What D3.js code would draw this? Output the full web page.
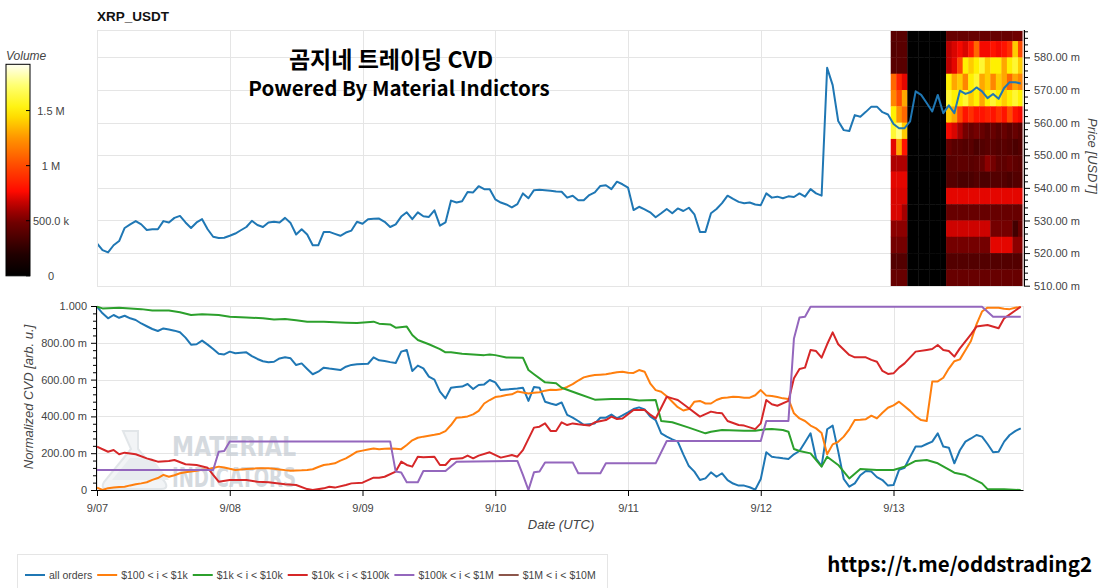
<!DOCTYPE html>
<html>
<head>
<meta charset="utf-8">
<script src="https://cdn.jsdelivr.net/npm/d3@7"></script>
<style>
	body { margin: 0; background: #ffffff; }
	text { font-family: "Liberation Sans", Arial, Helvetica, sans-serif; }
</style>
</head>
<body>
<svg id="chart" width="1103" height="588"></svg>
<script>

// hours are counted from 9/07 00:00 UTC
var START = Date.UTC(2024, 8, 7);
var END_HOUR = 167.5;

// hourly XRP price, milli-USDT
var priceM = [
	523.0, 520.9, 520.2, 522.4, 523.7, 527.7, 528.8, 529.8, 528.8, 527.1, 527.3, 527.3,
	529.8, 529.4, 530.8, 531.4, 529.4, 527.7, 529.4, 530.4, 527.3, 525.0, 524.6, 524.7,
	525.3, 526.0, 527.0, 528.0, 529.9, 528.6, 528.0, 529.4, 529.6, 529.4, 530.8, 529.2,
	525.7, 527.3, 525.7, 522.4, 522.4, 526.5, 526.5, 525.9, 525.3, 526.3, 526.9, 529.6,
	529.0, 530.4, 530.5, 530.6, 529.6, 528.0, 528.8, 531.2, 532.5, 530.4, 532.5, 531.3,
	531.1, 533.1, 528.4, 529.4, 536.1, 535.5, 535.9, 538.7, 538.6, 540.5, 539.6, 539.6,
	536.5, 535.5, 534.9, 534.0, 535.0, 538.3, 536.8, 539.3, 539.4, 539.3, 539.1, 538.9,
	538.8, 537.0, 537.6, 536.2, 536.2, 537.8, 538.6, 540.6, 540.8, 539.6, 541.9, 541.1,
	540.1, 533.2, 534.2, 533.4, 532.5, 531.0, 532.2, 533.5, 532.2, 533.7, 532.9, 533.9,
	531.9, 526.5, 526.5, 532.2, 533.5, 535.3, 537.6, 536.6, 535.7, 535.3, 535.5, 534.9,
	534.7, 538.3, 537.0, 537.3, 536.8, 537.4, 537.2, 538.3, 537.3, 539.6, 538.3, 537.6,
	576.8, 571.5, 560.5, 557.7, 557.4, 562.3, 561.8, 563.3, 564.9, 564.9, 563.2, 562.5,
	559.6, 558.3, 558.3, 560.4, 569.6, 568.5, 566.0, 563.4, 568.5, 562.9, 565.3, 562.9,
	569.8, 568.8, 569.4, 570.8, 569.6, 567.5, 568.8, 567.3, 570.6, 572.4, 572.4, 572.0
];

// normalized CVD, [hour, value]
var cvdAll = [
	[0,0.996],[1,0.960],[2,0.933],[3,0.951],[4,0.936],[5,0.947],[6,0.933],[7,0.924],[8,0.905],[9,0.890],
	[10,0.875],[11,0.864],[12,0.878],[13,0.872],[14,0.866],[15,0.857],[16,0.828],[17,0.790],[18,0.792],[19,0.812],
	[20,0.790],[21,0.766],[22,0.740],[23,0.737],[24,0.752],[25,0.743],[26,0.746],[27,0.748],[28,0.728],[29,0.712],
	[30,0.700],[31,0.694],[32,0.697],[33,0.715],[34,0.721],[35,0.716],[36,0.679],[37,0.688],[38,0.658],[39,0.629],
	[40,0.643],[41,0.665],[42,0.660],[43,0.656],[44,0.652],[45,0.670],[46,0.680],[47,0.683],[48,0.685],[49,0.686],
	[50,0.721],[51,0.705],[52,0.701],[53,0.695],[54,0.690],[55,0.752],[56,0.761],[57,0.647],[58,0.676],[59,0.661],
	[60,0.616],[61,0.600],[62,0.535],[63,0.498],[64,0.556],[65,0.560],[66,0.562],[67,0.576],[68,0.549],[69,0.571],
	[70,0.574],[71,0.598],[72,0.585],[73,0.543],[74,0.546],[75,0.549],[76,0.552],[77,0.556],[78,0.484],[79,0.560],
	[80,0.556],[81,0.480],[82,0.470],[83,0.462],[84,0.476],[85,0.408],[86,0.393],[87,0.375],[88,0.354],[89,0.358],
	[90,0.362],[91,0.393],[92,0.393],[93,0.410],[94,0.389],[95,0.405],[96,0.422],[97,0.440],[98,0.449],[99,0.438],
	[100,0.400],[101,0.380],[102,0.308],[103,0.290],[104,0.275],[105,0.263],[106,0.194],[107,0.130],[108,0.100],[109,0.054],
	[110,0.063],[111,0.096],[112,0.072],[113,0.091],[114,0.054],[115,0.035],[116,0.024],[117,0.024],[118,0.015],[119,0.002],
	[120,0.060],[121,0.205],[122,0.181],[123,0.176],[124,0.172],[125,0.169],[126,0.194],[127,0.212],[128,0.260],[129,0.308],
	[130,0.170],[131,0.130],[132,0.330],[133,0.350],[134,0.210],[135,0.060],[136,0.018],[137,0.036],[138,0.080],[139,0.103],
	[140,0.100],[141,0.070],[142,0.054],[143,0.024],[144,0.027],[145,0.109],[146,0.121],[147,0.180],[148,0.236],[149,0.236],
	[150,0.250],[151,0.263],[152,0.308],[153,0.236],[154,0.230],[155,0.145],[156,0.216],[157,0.263],[158,0.280],[159,0.299],
	[160,0.290],[161,0.250],[162,0.205],[163,0.208],[164,0.263],[165,0.299],[166,0.320],[167,0.335]
];

var cvd100 = [
	[0,0.013],[1,0.000],[2,0.010],[3,0.013],[4,0.016],[5,0.018],[6,0.025],[7,0.031],[8,0.036],[9,0.042],
	[10,0.055],[11,0.065],[12,0.082],[13,0.072],[14,0.080],[15,0.091],[16,0.096],[17,0.100],[18,0.105],[19,0.110],
	[20,0.113],[21,0.120],[22,0.127],[23,0.122],[24,0.115],[25,0.109],[26,0.112],[27,0.114],[28,0.116],[29,0.118],
	[30,0.118],[31,0.118],[32,0.116],[33,0.112],[34,0.108],[35,0.105],[36,0.106],[37,0.107],[38,0.109],[39,0.113],
	[40,0.125],[41,0.136],[42,0.140],[43,0.145],[44,0.160],[45,0.172],[46,0.190],[47,0.208],[48,0.214],[49,0.220],
	[50,0.226],[51,0.222],[52,0.224],[53,0.226],[54,0.224],[55,0.222],[56,0.245],[57,0.270],[58,0.284],[59,0.290],
	[60,0.295],[61,0.300],[62,0.306],[63,0.320],[64,0.353],[65,0.393],[66,0.396],[67,0.400],[68,0.411],[69,0.430],
	[70,0.470],[71,0.489],[72,0.505],[73,0.510],[74,0.516],[75,0.520],[76,0.535],[77,0.530],[78,0.525],[79,0.528],
	[80,0.531],[81,0.540],[82,0.545],[83,0.544],[84,0.548],[85,0.560],[86,0.575],[87,0.595],[88,0.612],[89,0.620],
	[90,0.625],[91,0.627],[92,0.629],[93,0.634],[94,0.640],[95,0.643],[96,0.637],[97,0.636],[98,0.652],[99,0.643],
	[100,0.580],[101,0.543],[102,0.534],[103,0.510],[104,0.480],[105,0.450],[106,0.432],[107,0.440],[108,0.480],[109,0.484],
	[110,0.470],[111,0.470],[112,0.489],[113,0.500],[114,0.503],[115,0.507],[116,0.505],[117,0.502],[118,0.502],[119,0.515],
	[120,0.543],[121,0.513],[122,0.511],[123,0.505],[124,0.498],[125,0.495],[126,0.417],[127,0.389],[128,0.375],[129,0.350],
	[130,0.335],[131,0.310],[132,0.194],[133,0.248],[134,0.262],[135,0.290],[136,0.330],[137,0.380],[138,0.382],[139,0.385],
	[140,0.404],[141,0.389],[142,0.420],[143,0.447],[144,0.460],[145,0.480],[146,0.455],[147,0.430],[148,0.400],[149,0.380],
	[150,0.375],[151,0.589],[152,0.590],[153,0.610],[154,0.660],[155,0.700],[156,0.710],[157,0.760],[158,0.810],[159,0.900],
	[160,0.970],[161,0.991],[162,0.991],[163,0.991],[164,0.985],[165,0.983],[166,0.990],[167,0.995]
];

var cvd1k = [
	[0,0.996],[1,0.987],[4,0.991],[8,0.983],[10,0.975],[13,0.975],[15,0.966],[17,0.951],[19,0.955],[22,0.951],
	[24,0.942],[27,0.938],[30,0.933],[32,0.926],[34,0.929],[36,0.922],[38,0.915],[41,0.915],[45,0.909],[47,0.907],
	[50,0.915],[51,0.904],[53,0.900],[54,0.882],[56,0.888],[57,0.842],[58,0.815],[60,0.792],[62,0.766],[63,0.748],
	[64,0.748],[66,0.741],[68,0.737],[70,0.733],[71,0.737],[72,0.733],[74,0.720],[77,0.719],[78,0.652],[79,0.629],
	[81,0.585],[83,0.580],[84,0.556],[87,0.523],[90,0.491],[93,0.495],[96,0.495],[98,0.487],[101,0.489],[102,0.375],
	[104,0.368],[107,0.339],[110,0.308],[111,0.317],[113,0.326],[117,0.322],[119,0.322],[121,0.330],[122,0.331],[124,0.326],
	[125,0.317],[126,0.223],[127,0.212],[129,0.199],[131,0.127],[132,0.181],[134,0.136],[136,0.063],[138,0.114],[141,0.109],
	[144,0.109],[146,0.127],[148,0.158],[150,0.163],[152,0.145],[155,0.094],[157,0.081],[160,0.036],[161,0.005],[164,0.004],
	[167,0.000]
];

var cvd10k = [
	[0,0.235],[2,0.208],[3,0.217],[4,0.194],[5,0.203],[7,0.194],[9,0.172],[10,0.163],[11,0.154],[13,0.158],
	[14,0.163],[16,0.140],[18,0.136],[20,0.121],[21,0.082],[22,0.045],[24,0.054],[27,0.054],[29,0.045],[31,0.042],
	[34,0.031],[36,0.027],[38,0.005],[39,0.000],[41,0.009],[42,0.018],[43,0.013],[45,0.027],[46,0.036],[48,0.040],
	[50,0.067],[51,0.067],[52,0.072],[54,0.100],[55,0.154],[56,0.136],[57,0.127],[58,0.181],[59,0.178],[61,0.181],
	[62,0.136],[63,0.136],[64,0.169],[66,0.172],[67,0.187],[68,0.172],[69,0.187],[71,0.205],[73,0.176],[75,0.190],
	[76,0.181],[77,0.217],[79,0.339],[80,0.344],[81,0.362],[82,0.321],[83,0.321],[84,0.368],[85,0.353],[86,0.362],
	[87,0.357],[89,0.350],[90,0.368],[92,0.380],[93,0.399],[94,0.386],[95,0.389],[97,0.435],[99,0.435],[100,0.410],
	[101,0.389],[102,0.447],[103,0.507],[104,0.498],[105,0.489],[107,0.444],[109,0.399],[111,0.426],[112,0.420],[113,0.417],
	[114,0.375],[116,0.353],[117,0.350],[119,0.331],[120,0.362],[121,0.489],[122,0.466],[123,0.458],[125,0.484],[126,0.607],
	[127,0.658],[128,0.665],[129,0.761],[130,0.755],[131,0.719],[132,0.792],[133,0.857],[134,0.792],[136,0.734],[137,0.721],
	[139,0.721],[140,0.707],[141,0.697],[142,0.647],[143,0.631],[144,0.634],[145,0.665],[146,0.688],[148,0.752],[150,0.761],
	[151,0.766],[152,0.788],[153,0.761],[154,0.755],[155,0.725],[156,0.770],[158,0.846],[159,0.888],[161,0.897],[163,0.879],
	[164,0.933],[167,0.996]
];

var cvd100k = [
	[0,0.109],[21,0.109],[22,0.208],[23,0.212],[24,0.264],[53,0.264],[54,0.100],[55,0.095],[56,0.042],[58,0.042],
	[59,0.103],[63,0.103],[65,0.154],[76,0.158],[77,0.082],[78,0.000],[79,0.096],[80,0.100],[81,0.150],[86,0.150],
	[87,0.091],[91,0.091],[92,0.145],[101,0.145],[103,0.266],[120,0.266],[121,0.375],[125,0.375],[126,0.824],[127,0.937],
	[128,0.942],[129,0.996],[160,0.996],[162,0.942],[167,0.942]
];

var cvd1M = [];

var seriesNames = ["all orders", "$100 < i < $1k", "$1k < i < $10k", "$10k < i < $100k", "$100k < i < $1M", "$1M < i < $10M"];
var seriesData = [cvdAll, cvd100, cvd1k, cvd10k, cvd100k, cvd1M];
var seriesColors = ["#1f77b4", "#ff7f0e", "#2ca02c", "#d62728", "#9467bd", "#8c564b"];

// order-book volume heatmap: price bins (lower edge, milli-USDT), hourly columns from 9/13 00:00, volume in M
var heatBinLow = [585, 580, 575, 570, 565, 560, 555, 550, 545, 540, 535, 530, 525, 520, 515, 510];
var heatHour0 = 144;
var volumeGrid = [
	[0.40,0.40,0.40, 0,0,0,0,0,0,0, 0.45,0.45,0.45,0.45,0.45,0.45,0.45,0.45,0.45,0.45,0.45,0.45,0.48,0.48],
	[0.38,0.40,0.40, 0,0,0,0,0,0,0, 0.65,0.70,0.75,0.70,0.80,1.10,0.75,0.75,0.80,0.75,0.80,0.90,1.40,1.00],
	[0.40,0.40,0.40, 0,0,0,0,0,0,0, 0.65,0.72,1.00,1.50,1.40,1.50,1.60,1.40,1.50,1.50,1.30,1.50,1.60,1.40],
	[1.10,0.85,0.72, 0,0,0,0,0,0,0, 1.50,1.30,1.40,1.20,1.50,1.60,1.30,1.40,1.20,1.40,1.30,1.10,1.30,1.20],
	[1.20,1.00,1.30, 0,0,0,0,0,0,0, 1.60,1.50,1.50,1.60,1.40,1.50,1.30,1.50,1.60,1.50,1.40,1.50,1.60,1.50],
	[1.50,1.25,1.10, 0,0,0,0,0,0,0, 1.40,1.30,1.00,0.80,0.90,0.80,0.80,0.85,0.80,0.90,0.80,1.00,0.80,0.75],
	[1.60,1.75,1.40, 0,0,0,0,0,0,0, 0.75,0.70,0.60,0.50,0.45,0.50,0.45,0.40,0.45,0.40,0.45,0.40,0.45,0.40],
	[0.72,1.30,0.80, 0,0,0,0,0,0,0, 0.45,0.40,0.40,0.38,0.40,0.35,0.38,0.40,0.40,0.38,0.40,0.38,0.35,0.38],
	[0.62,0.62,0.62, 0,0,0,0,0,0,0, 0.40,0.40,0.42,0.42,0.40,0.42,0.45,0.55,0.50,0.42,0.42,0.45,0.42,0.40],
	[0.72,0.72,0.72, 0,0,0,0,0,0,0, 0.38,0.38,0.35,0.35,0.35,0.38,0.35,0.35,0.38,0.38,0.38,0.35,0.38,0.38],
	[0.70,0.70,0.70, 0,0,0,0,0,0,0, 0.72,0.72,0.72,0.72,0.72,0.72,0.72,0.72,0.72,0.72,0.72,0.72,0.72,0.72],
	[0.70,0.70,0.60, 0,0,0,0,0,0,0, 0.45,0.45,0.45,0.45,0.45,0.45,0.45,0.45,0.45,0.45,0.45,0.45,0.45,0.45],
	[0.55,0.55,0.55, 0,0,0,0,0,0,0, 0.68,0.68,0.68,0.68,0.68,0.68,0.68,0.68,0.50,0.50,0.50,0.50,0.32,0.45],
	[0.50,0.50,0.50, 0,0,0,0,0,0,0, 0.50,0.50,0.50,0.50,0.50,0.50,0.50,0.50,0.72,0.72,0.72,0.72,0.55,0.55],
	[0.38,0.38,0.38, 0,0,0,0,0,0,0, 0.38,0.38,0.38,0.38,0.38,0.38,0.38,0.38,0.38,0.38,0.38,0.38,0.38,0.38],
	[0.45,0.45,0.45, 0,0,0,0,0,0,0, 0.45,0.45,0.45,0.45,0.45,0.45,0.45,0.45,0.45,0.45,0.45,0.45,0.45,0.45]
];

var priceTicks = [510, 520, 530, 540, 550, 560, 570, 580];
var cvdTicks = [0, 0.2, 0.4, 0.6, 0.8, 1];
var volumeTicks = [0, 0.5, 1, 1.5];
var volumeTickLabels = ["0", "500.0 k", "1 M", "1.5 M"];
var VOLUME_MAX = 1.92;

var LEFT = 97, RIGHT = 1023.5;
var TOP1 = 30, BOTTOM1 = 286;
var TOP2 = 306, BOTTOM2 = 490;
var GRID = "#e5e5e5", INK = "#444444";
var CJK = "'Noto Sans CJK KR', 'Noto Sans', sans-serif";

function hourDate(h) { return new Date(START + h * 3600000); }

var svg = d3.select("#chart");

var x = d3.scaleUtc()
	.domain([hourDate(0), hourDate(END_HOUR)])
	.range([LEFT, RIGHT]);
var yPrice = d3.scaleLinear().domain([510, 588.4]).range([285.7, TOP1]);
var yCvd = d3.scaleLinear().domain([0, 1]).range([BOTTOM2, TOP2]);
var heatColor = d3.scaleLinear()
	.domain([0, 0.1, 0.26, 0.33, 0.4, 0.52, 0.65, 0.78, 0.9, 1].map(function(t) { return t * VOLUME_MAX; }))
	.range(["#000000", "#200000", "#740000", "#b40000", "#ff0a00", "#ff4a00", "#ff9400", "#fff000", "#ffff70", "#fffff2"])
	.clamp(true);

var days = x.ticks(d3.utcDay.every(1));
var dayFormat = d3.utcFormat("%-m/%d");

var defs = svg.append("defs");
defs.append("clipPath").attr("id", "clip1")
	.append("rect").attr("x", LEFT).attr("y", TOP1).attr("width", RIGHT - LEFT).attr("height", BOTTOM1 - TOP1);
defs.append("clipPath").attr("id", "clip2")
	.append("rect").attr("x", LEFT).attr("y", TOP2 - 2).attr("width", RIGHT - LEFT).attr("height", BOTTOM2 - TOP2 + 2);

// ---------- top panel: price + heatmap ----------
var pricePanel = svg.append("g");

pricePanel.append("text")
	.attr("x", LEFT).attr("y", 21)
	.style("font-size", "13.5px").style("font-weight", "bold").style("fill", "#111")
	.text("XRP_USDT");

var grid1 = pricePanel.append("g");
grid1.selectAll(".h").data(priceTicks).enter().append("line")
	.attr("x1", LEFT).attr("x2", RIGHT)
	.attr("y1", function(d) { return Math.round(yPrice(d)) + 0.5; })
	.attr("y2", function(d) { return Math.round(yPrice(d)) + 0.5; })
	.style("stroke", GRID);
grid1.selectAll(".v").data(days).enter().append("line")
	.attr("x1", function(d) { return Math.round(x(d)) + 0.5; })
	.attr("x2", function(d) { return Math.round(x(d)) + 0.5; })
	.attr("y1", TOP1).attr("y2", BOTTOM1)
	.style("stroke", GRID);

var cells = [];
volumeGrid.forEach(function(row, i) {
	row.forEach(function(v, j) {
		cells.push({low: heatBinLow[i], hour: heatHour0 + j, v: v});
	});
});

pricePanel.append("g").attr("clip-path", "url(#clip1)")
	.selectAll("rect").data(cells).enter().append("rect")
	.attr("x", function(d) { return x(hourDate(d.hour - 0.5)); })
	.attr("width", function(d) { return x(hourDate(d.hour + 0.5)) - x(hourDate(d.hour - 0.5)) + 0.4; })
	.attr("y", function(d) { return yPrice(d.low + 5); })
	.attr("height", function(d) { return yPrice(d.low) - yPrice(d.low + 5) + 0.4; })
	.style("fill", function(d) { return heatColor(d.v); });

var priceLine = d3.line()
	.x(function(d, i) { return x(hourDate(i)); })
	.y(function(d) { return yPrice(d); });

pricePanel.append("path").datum(priceM)
	.attr("clip-path", "url(#clip1)")
	.attr("d", priceLine)
	.style("fill", "none").style("stroke", "#1f77b4").style("stroke-width", 2)
	.style("stroke-linejoin", "round");

pricePanel.append("rect")
	.attr("x", LEFT + 0.5).attr("y", TOP1 + 0.5)
	.attr("width", RIGHT - LEFT - 1).attr("height", BOTTOM1 - TOP1)
	.style("fill", "none").style("stroke", GRID);

var rightAxis = pricePanel.append("g").attr("transform", "translate(" + Math.round(RIGHT) + ",0)");
rightAxis.call(d3.axisRight(yPrice).tickValues(priceTicks).tickSize(6).tickPadding(4)
	.tickFormat(function(d) { return d.toFixed(2) + " m"; }));
rightAxis.append("g").call(d3.axisRight(yPrice)
	.tickValues(d3.range(510, 589, 2).filter(function(d) { return d % 10; }))
	.tickSize(4).tickFormat(""));
rightAxis.selectAll(".domain").attr("d", "M0.5," + TOP1 + "V" + BOTTOM1);
rightAxis.selectAll(".tick text").style("font-size", "11px").style("fill", INK)
	.style("font-family", "Liberation Sans, Arial, sans-serif");

pricePanel.append("text")
	.attr("transform", "translate(1088," + 156 + ") rotate(90)")
	.attr("text-anchor", "middle")
	.style("font-size", "13px").style("font-style", "italic").style("fill", INK)
	.text("Price [USDT]");

// volume colour bar
var yBar = d3.scaleLinear().domain([0, VOLUME_MAX]).range([275.8, 64.3]);
var grad = defs.append("linearGradient").attr("id", "volgrad")
	.attr("x1", 0).attr("y1", 1).attr("x2", 0).attr("y2", 0);
d3.range(0, 1.0001, 0.05).forEach(function(t) {
	grad.append("stop").attr("offset", t).attr("stop-color", heatColor(t * VOLUME_MAX));
});
svg.append("rect")
	.attr("x", 6).attr("y", yBar(VOLUME_MAX))
	.attr("width", 24).attr("height", yBar(0) - yBar(VOLUME_MAX))
	.style("fill", "url(#volgrad)").style("stroke", "#000").style("stroke-width", 1);
var barTicks = svg.append("g").selectAll("g").data(volumeTicks).enter().append("g");
barTicks.append("line")
	.attr("x1", 26).attr("x2", 30)
	.attr("y1", function(d) { return yBar(d); }).attr("y2", function(d) { return yBar(d); })
	.style("stroke", "#000");
barTicks.append("text")
	.attr("x", 51).attr("y", function(d) { return yBar(d) + 4; })
	.attr("text-anchor", "middle")
	.style("font-size", "11px").style("fill", INK)
	.text(function(d, i) { return volumeTickLabels[i]; });
svg.append("text")
	.attr("x", 6).attr("y", 60)
	.style("font-size", "12px").style("font-style", "italic").style("fill", INK)
	.text("Volume");

// titles
svg.append("text")
	.attr("x", 391).attr("y", 68).attr("text-anchor", "middle")
	.style("font-family", CJK)
	.style("font-size", "23px").style("font-weight", "bold").style("fill", "#000")
	.text("곰지네 트레이딩 CVD");
svg.append("text")
	.attr("x", 399).attr("y", 96).attr("text-anchor", "middle")
	.style("font-family", CJK)
	.style("font-size", "20.5px").style("font-weight", "bold").style("fill", "#000")
	.text("Powered By Material Indictors");

// ---------- bottom panel: normalized CVD ----------
var cvdPanel = svg.append("g");

var grid2 = cvdPanel.append("g");
grid2.selectAll(".h").data(cvdTicks).enter().append("line")
	.attr("x1", LEFT).attr("x2", RIGHT)
	.attr("y1", function(d) { return Math.round(yCvd(d)) + 0.5; })
	.attr("y2", function(d) { return Math.round(yCvd(d)) + 0.5; })
	.style("stroke", GRID);
grid2.selectAll(".v").data(days).enter().append("line")
	.attr("x1", function(d) { return Math.round(x(d)) + 0.5; })
	.attr("x2", function(d) { return Math.round(x(d)) + 0.5; })
	.attr("y1", TOP2).attr("y2", BOTTOM2)
	.style("stroke", GRID);
cvdPanel.append("line")
	.attr("x1", Math.round(RIGHT) - 0.5).attr("x2", Math.round(RIGHT) - 0.5)
	.attr("y1", TOP2).attr("y2", BOTTOM2)
	.style("stroke", GRID);

// watermark
var mark = cvdPanel.append("g").style("opacity", 0.75);
mark.append("path")
	.attr("d", "M123,431 h15 v18 l27,33 q4,7 -4,7 h-53 q-8,0 -4,-7 l27,-33 z")
	.style("fill", "#eef1f3").style("stroke", "#d9dee2").style("stroke-width", 2);
mark.append("path")
	.attr("d", "M112,480 l18,-22 h22 l17,22")
	.style("fill", "#e1e6ea").style("stroke", "none");
var markFont = "'Liberation Sans Narrow', 'DejaVu Sans Condensed', sans-serif";
mark.append("text")
	.attr("x", 172).attr("y", 456).attr("textLength", 124).attr("lengthAdjust", "spacingAndGlyphs")
	.style("font-family", markFont)
	.style("font-size", "27px").style("font-weight", "bold").style("fill", "#c7ced5")
	.text("MATERIAL");
mark.append("text")
	.attr("x", 172).attr("y", 487).attr("textLength", 124).attr("lengthAdjust", "spacingAndGlyphs")
	.style("font-family", markFont)
	.style("font-size", "27px").style("font-weight", "bold").style("fill", "#c7ced5")
	.text("INDICATORS");

var cvdLine = d3.line()
	.x(function(d) { return x(hourDate(d[0])); })
	.y(function(d) { return yCvd(d[1]); });

cvdPanel.append("g").attr("clip-path", "url(#clip2)")
	.selectAll("path").data(seriesData).enter().append("path")
	.attr("d", function(d) { return d.length ? cvdLine(d) : null; })
	.style("fill", "none")
	.style("stroke", function(d, i) { return seriesColors[i]; })
	.style("stroke-width", 2)
	.style("stroke-linejoin", "round");

var leftAxis = cvdPanel.append("g").attr("transform", "translate(" + LEFT + ",0)");
leftAxis.call(d3.axisLeft(yCvd).tickValues(cvdTicks).tickSize(6).tickPadding(4)
	.tickFormat(function(d) { return d === 1 ? "1.000" : d === 0 ? "0" : (d * 1000).toFixed(2) + " m"; }));
leftAxis.append("g").call(d3.axisLeft(yCvd)
	.tickValues(d3.range(0, 1.001, 0.04).filter(function(d) { return Math.abs(d * 5 - Math.round(d * 5)) > 1e-6; }))
	.tickSize(4).tickFormat(""));
leftAxis.selectAll(".domain").attr("d", "M-0.5," + TOP2 + "V" + BOTTOM2);
leftAxis.selectAll(".tick text").style("font-size", "11px").style("fill", INK)
	.style("font-family", "Liberation Sans, Arial, sans-serif");

var bottomAxis = cvdPanel.append("g").attr("transform", "translate(0," + BOTTOM2 + ")");
bottomAxis.call(d3.axisBottom(x).tickValues(days).tickSize(6).tickPadding(8).tickFormat(dayFormat));
bottomAxis.selectAll(".domain").attr("d", "M" + LEFT + ",0.5H" + RIGHT);
bottomAxis.selectAll(".tick text").style("font-size", "11px").style("fill", INK)
	.style("font-family", "Liberation Sans, Arial, sans-serif");

cvdPanel.append("text")
	.attr("x", 561).attr("y", 529).attr("text-anchor", "middle")
	.style("font-size", "13px").style("font-style", "italic").style("fill", INK)
	.text("Date (UTC)");
cvdPanel.append("text")
	.attr("transform", "translate(33,397) rotate(-90)")
	.attr("text-anchor", "middle")
	.style("font-size", "13px").style("font-style", "italic").style("fill", INK)
	.text("Normalized CVD [arb. u.]");

// legend
var legend = svg.append("g");
legend.append("rect")
	.attr("x", 17.5).attr("y", 554.5).attr("width", 590).attr("height", 40)
	.style("fill", "#fff").style("stroke", GRID);
var lx = 25;
seriesNames.forEach(function(name, i) {
	var item = legend.append("g").attr("transform", "translate(" + lx + ",575)");
	item.append("line").attr("x1", 0).attr("x2", 20).attr("y1", 0).attr("y2", 0)
		.style("stroke", seriesColors[i]).style("stroke-width", 2);
	var t = item.append("text").attr("x", 24).attr("y", 4)
		.style("font-size", "10.5px").style("fill", INK).text(name);
	lx += 24 + t.node().getComputedTextLength() + 5;
});

svg.append("text")
	.attr("x", 1092).attr("y", 572).attr("text-anchor", "end")
	.style("font-family", CJK)
	.style("font-size", "20.5px").style("font-weight", "bold").style("fill", "#000")
	.text("https://t.me/oddstrading2");

</script>
</body>
</html>
